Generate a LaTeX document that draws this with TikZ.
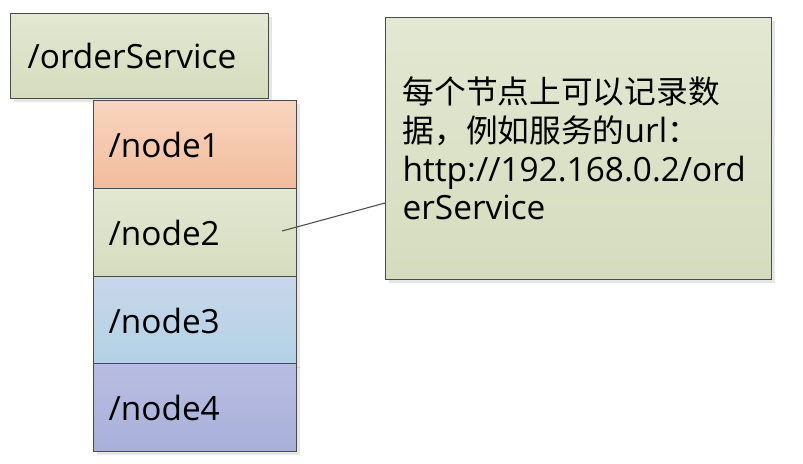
\documentclass[tikz,border=0pt]{standalone}
\usepackage{fontspec}
\setmainfont{Open Sans}
\newfontfamily\cjk[Scale=0.95]{Noto Sans CJK SC}
\usetikzlibrary{shadows}
\definecolor{framegray}{HTML}{4A4A4A}
\definecolor{greentop}{HTML}{E3E8D2}
\definecolor{greenbot}{HTML}{D5DCBE}
\definecolor{peachtop}{HTML}{F8D5C0}
\definecolor{peachbot}{HTML}{F2BC9C}
\definecolor{bluetop}{HTML}{C9D6EA}
\definecolor{bluebot}{HTML}{B2D2E6}
\definecolor{lilactop}{HTML}{B9BDE1}
\definecolor{lilacbot}{HTML}{A8B0DA}

\tikzset{
    box/.style={draw=framegray, line width=0.7pt, anchor=north west,
        align=left, font=\fontsize{19}{22}\selectfont,
        drop shadow={shadow xshift=0.07cm, shadow yshift=-0.07cm, opacity=0.2}},
    znode/.style={box, minimum width=4.06cm, minimum height=1.76cm,
        inner xsep=0.3cm, text width=3.46cm},
    green/.style={top color=greentop, bottom color=greenbot},
}

\begin{document}
\begin{tikzpicture}
    \useasboundingbox (0,0) rectangle (16.06,-9.26);
    \node[box, green, minimum width=5.16cm, minimum height=1.70cm,
        inner xsep=0.34cm, text width=4.48cm](root)      at (0.20,-0.26) {/orderService};
    \node[znode, top color=peachtop, bottom color=peachbot](node1)  at (1.86,-2.00) {/node1};
    \node[znode, green](node2)                                      at (1.86,-3.76) {/node2};
    \node[znode, top color=bluetop, bottom color=bluebot](node3)    at (1.86,-5.52) {/node3};
    \node[znode, top color=lilactop, bottom color=lilacbot](node4)  at (1.86,-7.26) {/node4};
    % Notiz
    \node[box, green, minimum width=7.72cm, minimum height=5.24cm,
        inner xsep=0.34cm, text width=7.04cm](note)      at (7.70,-0.34)
        {{\cjk 每个节点上可以记录数}\\{\cjk 据，例如服务的}url{\cjk ：}\\http://192.168.0.2/ord\\erService};
    \coordinate (n2tip)   at (5.64,-4.62);
    \coordinate (notetip) at (7.70,-4.06);
    \path
        (n2tip)
            edge [draw=framegray, line width=0.6pt] (notetip)
        ;
\end{tikzpicture}
\end{document}
